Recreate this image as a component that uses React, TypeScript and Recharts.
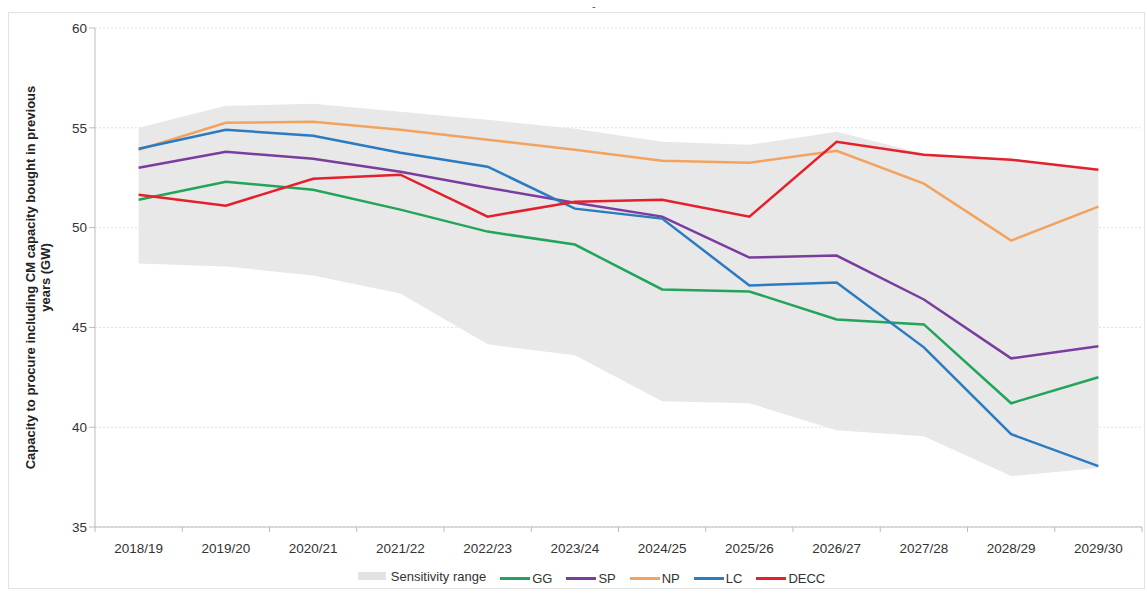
import React from "react";
import {
  ComposedChart,
  Area,
  Line,
  XAxis,
  YAxis,
  CartesianGrid,
} from "recharts";

const categories = [
  "2018/19", "2019/20", "2020/21", "2021/22", "2022/23", "2023/24",
  "2024/25", "2025/26", "2026/27", "2027/28", "2028/29", "2029/30",
];
const gg = [51.4, 52.3, 51.9, 50.9, 49.8, 49.15, 46.9, 46.8, 45.4, 45.15, 41.2, 42.5];
const sp = [53.0, 53.8, 53.45, 52.8, 52.0, 51.25, 50.55, 48.5, 48.6, 46.4, 43.45, 44.05];
const np = [53.9, 55.25, 55.3, 54.9, 54.4, 53.9, 53.35, 53.25, 53.85, 52.2, 49.35, 51.05];
const lc = [53.95, 54.9, 54.6, 53.75, 53.05, 50.95, 50.45, 47.1, 47.25, 44.0, 39.65, 38.05];
const decc = [51.65, 51.1, 52.45, 52.65, 50.55, 51.3, 51.4, 50.55, 54.3, 53.65, 53.4, 52.9];
const rangeLow = [48.2, 48.05, 47.6, 46.7, 44.15, 43.6, 41.3, 41.2, 39.85, 39.55, 37.55, 37.95];
const rangeHigh = [55.0, 56.1, 56.2, 55.8, 55.4, 54.95, 54.3, 54.15, 54.8, 53.7, 53.45, 52.95];
const yTicks = [35, 40, 45, 50, 55, 60];

const data = categories.map((c, i) => ({
  year: c,
  range: [rangeLow[i], rangeHigh[i]],
  GG: gg[i],
  SP: sp[i],
  NP: np[i],
  LC: lc[i],
  DECC: decc[i],
}));

const W = 1147;
const H = 595;
const X_AXIS_H = 30;
const M = { top: 28, right: 5, bottom: 68 - X_AXIS_H, left: 45 };
const Y_AXIS_W = 50;
const PLOT_LEFT = M.left + Y_AXIS_W;
const BAND = (W - PLOT_LEFT - M.right) / categories.length;

const FONT = "'Liberation Sans', Arial, sans-serif";

const series = [
  { key: "GG", color: "#22a45a" },
  { key: "SP", color: "#7a3d9e" },
  { key: "NP", color: "#f3a35f" },
  { key: "LC", color: "#2a7bc1" },
  { key: "DECC", color: "#e3202b" },
];

function XTick(props: any) {
  const { x, y, payload, index } = props;
  const axisY = y - 8;
  return (
    <g>
      <line x1={x - BAND / 2} y1={axisY} x2={x - BAND / 2} y2={axisY + 5} stroke="#bbb" />
      {index === categories.length - 1 && (
        <line x1={x + BAND / 2} y1={axisY} x2={x + BAND / 2} y2={axisY + 5} stroke="#bbb" />
      )}
      <text x={x} y={y + 18} textAnchor="middle" fill="#333" fontSize={13.5} fontFamily={FONT}>
        {payload.value}
      </text>
    </g>
  );
}

function YLabel() {
  const cx = 37;
  const cy = M.top + (H - 68 - M.top) / 2;
  return (
    <text
      transform={`translate(${cx},${cy}) rotate(-90)`}
      textAnchor="middle"
      fill="#222"
      fontSize={13}
      fontWeight="bold"
      fontFamily={FONT}
    >
      <tspan x={0} dy={-2}>Capacity to procure including  CM capacity bought in previous</tspan>
      <tspan x={0} dy={15}>years (GW)</tspan>
    </text>
  );
}

function LegendBox() {
  const item: React.CSSProperties = {
    display: "inline-flex",
    alignItems: "center",
    marginRight: 14,
    fontSize: 13,
    color: "#333",
    fontFamily: FONT,
  };
  return (
    <div style={{ position: "absolute", left: 0, width: W, top: 566, textAlign: "center", paddingLeft: 50, boxSizing: "border-box" }}>
      <span style={item}>
        <span style={{ display: "inline-block", width: 28, height: 8, background: "#e3e3e3", marginRight: 5 }} />
        Sensitivity range
      </span>
      {series.map((s) => (
        <span key={s.key} style={item}>
          <span style={{ display: "inline-block", width: 30, height: 3, background: s.color, marginRight: 2 }} />
          {s.key}
        </span>
      ))}
    </div>
  );
}

export default function App() {
  return (
    <div style={{ position: "absolute", left: 0, top: 0, width: W, height: H, background: "#fff" }}>
      <div
        style={{
          position: "absolute",
          left: 8,
          top: 12,
          width: W - 10,
          height: H - 18,
          border: "1px solid #e2e2e2",
          boxSizing: "border-box",
        }}
      />
      <div style={{ position: "absolute", left: 592, top: 0, fontSize: 11, color: "#555", fontFamily: FONT }}>-</div>
      <div style={{ position: "absolute", left: 0, top: 0 }}>
        <ComposedChart width={W} height={H} data={data} margin={M}>
          <CartesianGrid vertical={false} stroke="#e0e0e0" strokeDasharray="2 2" />
          <XAxis
            dataKey="year"
            stroke="#bbb"
            tickLine={false}
            tick={<XTick />}
            interval={0}
            height={X_AXIS_H}
            padding={{ left: BAND / 2, right: BAND / 2 }}
          />
          <YAxis
            domain={[35, 60]}
            ticks={yTicks}
            width={Y_AXIS_W}
            stroke="#bbb"
            tickSize={6}
            tick={{ fill: "#333", fontSize: 13.5, fontFamily: FONT }}
            label={<YLabel />}
          />
          <Area
            dataKey="range"
            stroke="none"
            fill="#e8e8e8"
            fillOpacity={1}
            isAnimationActive={false}
          />
          {series.map((s) => (
            <Line
              key={s.key}
              dataKey={s.key}
              stroke={s.color}
              strokeWidth={2.5}
              dot={false}
              type="linear"
              isAnimationActive={false}
            />
          ))}
        </ComposedChart>
      </div>
      <LegendBox />
    </div>
  );
}
